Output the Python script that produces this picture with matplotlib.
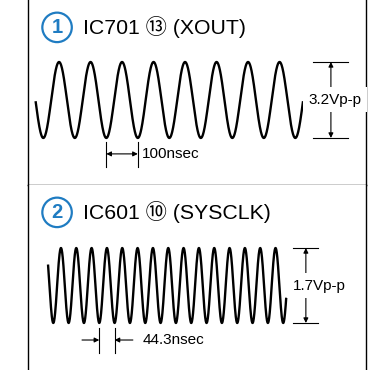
"""Oscilloscope waveforms for the clock test points."""

import numpy as np
import matplotlib
matplotlib.use('Agg')
import matplotlib.pyplot as plt

# =============================================================================
# Test points
circle_nums = ["1", "2"]
titles = ["IC701 \u246c (XOUT)", "IC601 \u2469 (SYSCLK)"]
vpp = [3.2, 1.7]               # peak-to-peak voltage
period_ns = [100, 44.3]        # one cycle
t_start = [-24, -15]           # visible time window [ns]
t_end = [824, 673]
vpp_labels = ["3.2Vp-p", "1.7Vp-p"]
period_labels = ["100nsec", "44.3nsec"]

# axes ranges for each panel (time ns, volts)
xlims = [(-48.6, 1024.4), (-73.1, 903.8)]
ylims = [(-3.58, 4.21), (-1.916, 2.279)]

BLUE = '#1f7cc2'
FONT = ['Liberation Sans', 'Noto Sans CJK JP', 'DejaVu Sans']

# =============================================================================
def wave(t, amp, period):
    return -amp * np.cos(2 * np.pi * t / period)

def vdim(ax, x, x0, x1, amp, label, xtext):
    # vertical dimension with extension lines
    for v in (amp, -amp):
        ax.plot([x0, x1], [v, v], color='k', lw=0.8)
    ax.annotate('', xy=(x, amp), xytext=(x, -amp),
                arrowprops=dict(arrowstyle='<|-|>', color='k', lw=0.8,
                                mutation_scale=7, shrinkA=0, shrinkB=0))
    ax.text(xtext, 0, label, ha='center', va='center', fontsize=11,
            family=FONT, bbox=dict(fc='white', ec='none', pad=4))


fig = plt.figure(figsize=(3.68, 3.70), dpi=100)

x0f = 28 / 368
wf = 338 / 368
axes = [fig.add_axes([x0f, 0.5, wf, 0.5]),
        fig.add_axes([x0f, 0.0, wf, 0.5])]

for i, ax in enumerate(axes):
    ax.set_xlim(*xlims[i])
    ax.set_ylim(*ylims[i])
    ax.set_xticks([])
    ax.set_yticks([])
    ax.spines['top'].set_visible(False)
    ax.spines['bottom'].set_visible(i == 0)
    for s in ax.spines.values():
        s.set_linewidth(1.0)

    amp = vpp[i] / 2
    P = period_ns[i]
    t = np.linspace(t_start[i], t_end[i], 2000)
    ax.plot(t, wave(t, amp, P), color='k', lw=1.7)

    # title with circled number
    ax.text(0.086, 0.852, circle_nums[i], transform=ax.transAxes,
            ha='center', va='center', fontsize=14.5, color=BLUE,
            family=FONT, fontweight='bold',
            bbox=dict(boxstyle='circle,pad=0.26', fc='white', ec=BLUE, lw=1.6))
    ax.text(0.163, 0.852, titles[i], transform=ax.transAxes,
            ha='left', va='center', fontsize=15.3, family=FONT)

# panel 1 dimensions
ax = axes[0]
amp = vpp[0] / 2
P = period_ns[0]
vdim(ax, 913, 856, 967, amp, vpp_labels[0], 926)
for tk in (2 * P, 3 * P):
    ax.plot([tk, tk], [-1.77, -2.82], color='k', lw=0.8)
ax.annotate('', xy=(2 * P, -2.27), xytext=(3 * P, -2.27),
            arrowprops=dict(arrowstyle='<|-|>', color='k', lw=0.8,
                            mutation_scale=7, shrinkA=0, shrinkB=0))
ax.text(3 * P + 13, -2.27, period_labels[0], ha='left', va='center',
        fontsize=11, family=FONT)

# panel 2 dimensions
ax = axes[1]
amp = vpp[1] / 2
P = period_ns[1]
vdim(ax, 730, 693, 765, amp, vpp_labels[1], 769)
for tk in (3 * P, 4 * P):
    ax.plot([tk, tk], [-0.964, -1.53], color='k', lw=0.8)
ax.annotate('', xy=(3 * P, -1.236), xytext=(83, -1.236),
            arrowprops=dict(arrowstyle='-|>', color='k', lw=0.8,
                            mutation_scale=7, shrinkA=0, shrinkB=0))
ax.annotate('', xy=(4 * P, -1.236), xytext=(230, -1.236),
            arrowprops=dict(arrowstyle='-|>', color='k', lw=0.8,
                            mutation_scale=7, shrinkA=0, shrinkB=0))
ax.text(259, -1.236, period_labels[1], ha='left', va='center',
        fontsize=11, family=FONT)

fig.savefig('out.png', dpi=100)
